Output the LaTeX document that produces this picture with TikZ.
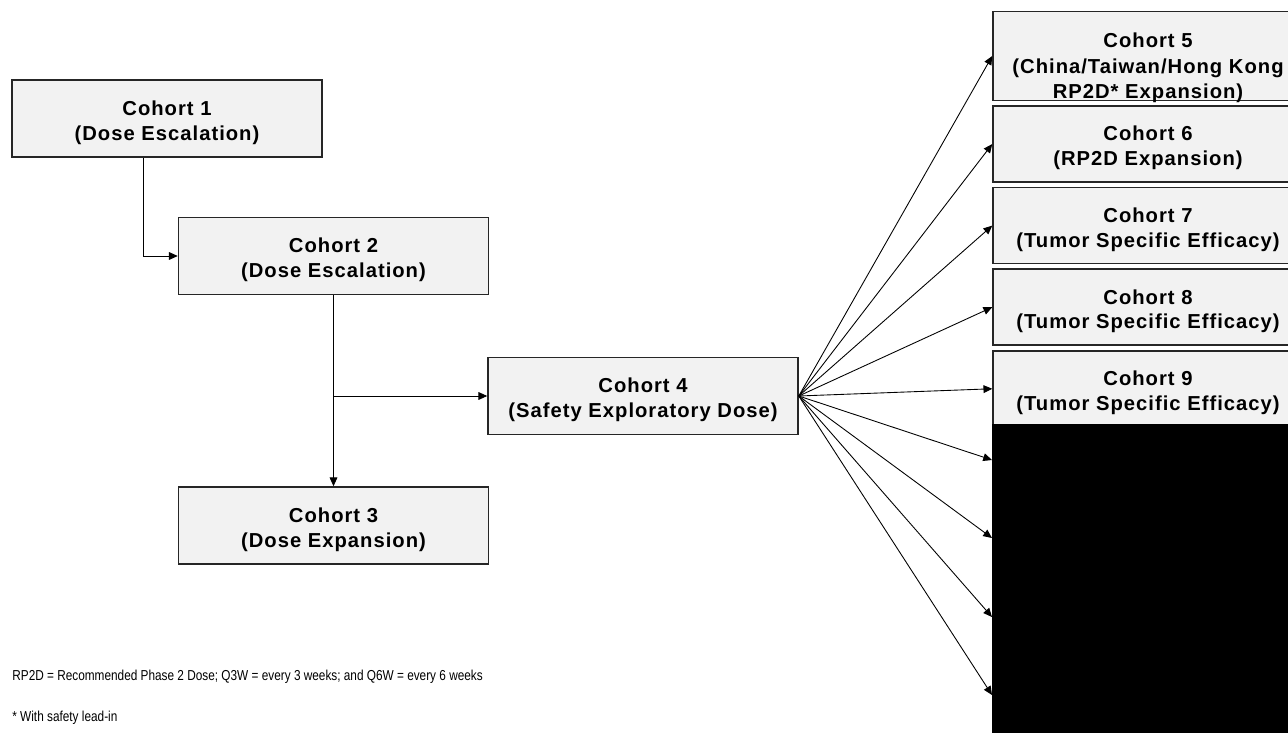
\documentclass[tikz,border=0pt]{standalone}
\usepackage{fontspec}
\setmainfont{Liberation Sans}
\newfontfamily\boxfont[LetterSpace=5]{Liberation Sans}
\usetikzlibrary{positioning}
\usetikzlibrary{calc}
\usetikzlibrary{arrows.meta}
\definecolor{boxfill}{HTML}{F2F2F2}
\definecolor{boxline}{HTML}{262626}
\newcommand{\toppad}[1]{\rule{0pt}{#1}}

\begin{document}
\begin{tikzpicture}[x=0.02cm, y=-0.02cm,
    cohort/.style={draw=boxline, line width=0.9pt, fill=boxfill, minimum width=6.2cm, minimum height=1.54cm, inner sep=0pt, align=center, font=\boxfont\bfseries\fontsize{11.5}{14.2}\selectfont},
    link/.style={line width=0.5pt, -{Triangle[length=5pt, width=4.4pt]}},
    note/.style={anchor=west, inner sep=0pt, font=\fontsize{8.2}{10}\selectfont}]
    \path[use as bounding box] (0,0) rectangle (1288,733);
    \clip (0,0) rectangle (1288,733);

    % left part
    \node[cohort] (c_1) at (167,118.5) {\toppad{13pt}Cohort 1\\(Dose Escalation)};
    \node[cohort] (c_2) at (333.5,256) {\toppad{13pt}Cohort 2\\(Dose Escalation)};
    \node[cohort] (c_3) at (333.5,525.5) {\toppad{13pt}Cohort 3\\(Dose Expansion)};
    \node[cohort] (c_4) at (643,396) {\toppad{13pt}Cohort 4\\(Safety Exploratory Dose)};

    % right column
    \node[cohort, minimum height=1.78cm, font=\boxfont\bfseries\fontsize{11.5}{14.7}\selectfont] (c_5) at (1148,56) {\toppad{19.5pt}Cohort 5\\(China/Taiwan/Hong Kong\\\raisebox{0pt}[\height][0pt]{RP2D* Expansion)}};
    \node[cohort, minimum height=1.52cm, below = 0.08cm of c_5] (c_6) {\toppad{13pt}Cohort 6\\(RP2D Expansion)};
    \node[cohort, minimum height=1.52cm, below = 0.08cm of c_6] (c_7) {\toppad{13pt}Cohort 7\\(Tumor Specific Efficacy)};
    \node[cohort, minimum height=1.52cm, below = 0.08cm of c_7] (c_8) {\toppad{13pt}Cohort 8\\(Tumor Specific Efficacy)};
    \node[cohort, minimum height=1.52cm, below = 0.08cm of c_8] (c_9) {\toppad{13pt}Cohort 9\\(Tumor Specific Efficacy)};
    \fill[black] (992,424) rectangle (1300,740);
    \coordinate (hid_1) at (992,460);
    \coordinate (hid_2) at (992,538);
    \coordinate (hid_3) at (992,617);
    \coordinate (hid_4) at (992,695);

    % connectors
    \draw[link] ($(c_1.south)+(-24,0)$) |- (c_2.west);
    \draw[link] (c_2.south) -- (c_3.north);
    \draw[link] (c_2.south |- c_4.west) -- (c_4.west);

    \draw[link] (c_4.east) -- (c_5.west);
    \draw[link] (c_4.east) -- (c_6.west);
    \draw[link] (c_4.east) -- (c_7.west);
    \draw[link] (c_4.east) -- (c_8.west);
    \draw[link] (c_4.east) -- (c_9.west);
    \draw[link] (c_4.east) -- (hid_1);
    \draw[link] (c_4.east) -- (hid_2);
    \draw[link] (c_4.east) -- (hid_3);
    \draw[link] (c_4.east) -- (hid_4);

    % notes
    \node[note] (abbr) at (12,677) {\scalebox{0.82}[1]{RP2D = Recommended Phase 2 Dose; Q3W = every 3 weeks; and Q6W = every 6 weeks}};
    \node[note] (lead) at (12,718) {\scalebox{0.82}[1]{* With safety lead-in}};
\end{tikzpicture}
\end{document}
